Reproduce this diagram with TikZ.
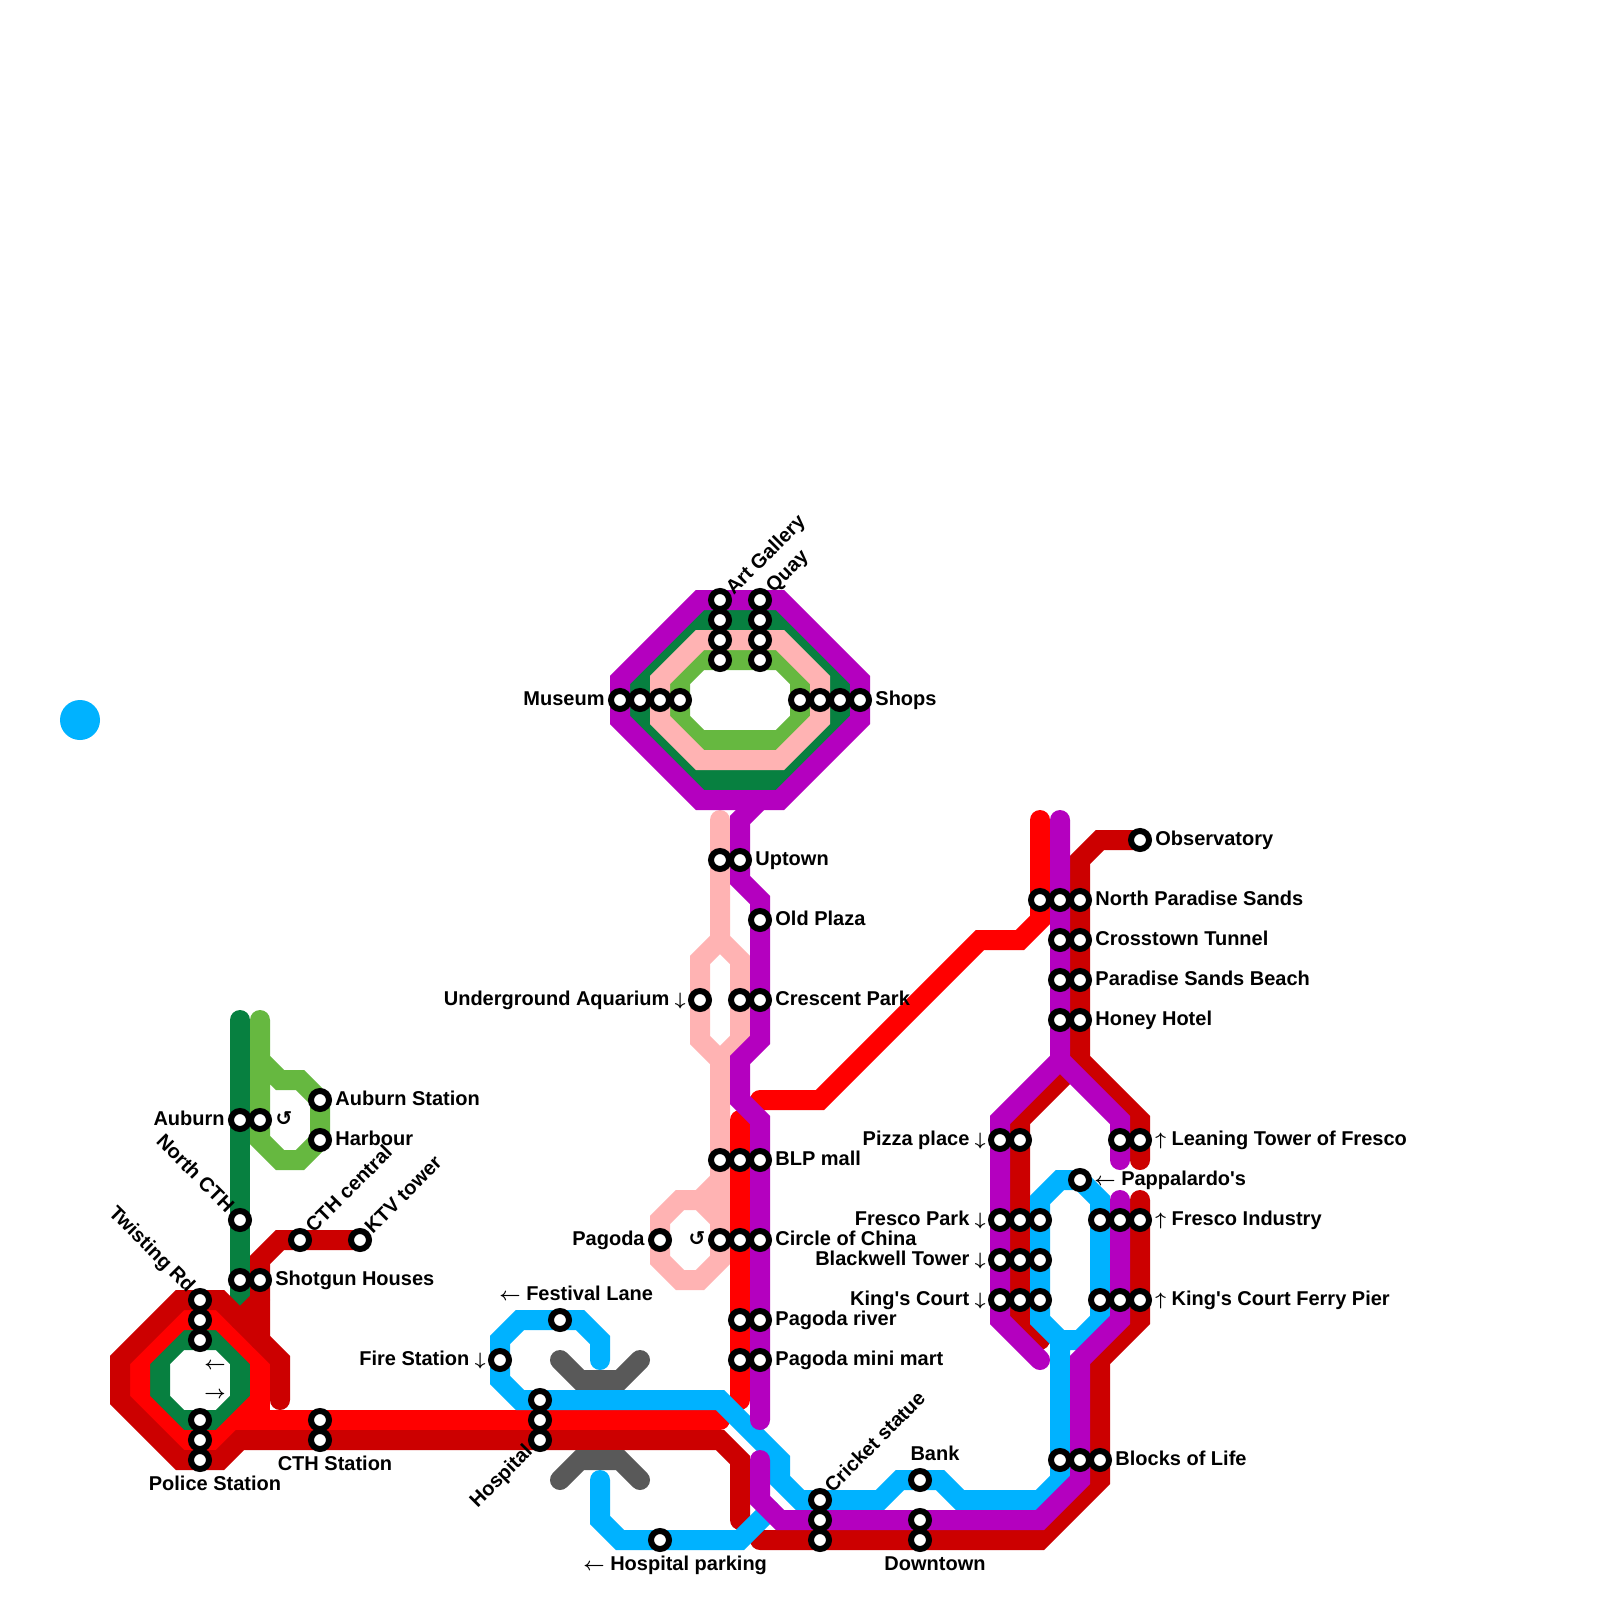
\documentclass[tikz,border=0pt]{standalone}
\usepackage{fontspec}
\newfontfamily\lblfont{Liberation Sans}
\newfontfamily\symfont{DejaVu Sans}
\newcommand{\arrDn}{{\fontsize{9}{9}\selectfont\boldmath$\downarrow$}}
\newcommand{\arrUp}{{\fontsize{9}{9}\selectfont\boldmath$\uparrow$}}
\newcommand{\arrLf}{{\fontsize{9}{9}\selectfont\boldmath$\leftarrow$}}
\newcommand{\arrRt}{{\fontsize{9}{9}\selectfont\boldmath$\rightarrow$}}
\usepackage{xcolor}
\usetikzlibrary{positioning}
\definecolor{lineRed}{HTML}{FF0000}
\definecolor{lineDark}{HTML}{CC0000}
\definecolor{linePurple}{HTML}{B400BF}
\definecolor{lineBlue}{HTML}{00B2FF}
\definecolor{lineGreen}{HTML}{078040}
\definecolor{lineLime}{HTML}{66B840}
\definecolor{linePink}{HTML}{FFB3B3}
\definecolor{lineGrey}{HTML}{595959}
\tikzset{
  mline/.style ={line width=10pt, line cap=round, line join=miter},
  stn/.style   ={draw=black, fill=white, circle, line width=3pt, minimum size=9pt, inner sep=0pt},
  txt/.style   ={font=\lblfont\bfseries\fontsize{10}{12}\selectfont, inner sep=0pt, text height=7.2pt, text depth=2pt},
  txtr/.style  ={txt, anchor=west},
  txtl/.style  ={txt, anchor=east},
  txtup/.style ={txt, anchor=west, rotate=45},
  txtdn/.style ={txt, anchor=east, rotate=-45},
  txthp/.style ={txt, anchor=east, rotate=45},
}

\begin{document}
\begin{tikzpicture}[x=0.5pt, y=-0.5pt]
  \useasboundingbox (0,0) rectangle (1600,1600);
  \fill[white] (0,0) rectangle (1600,1600);

  % Lime line
  \draw[mline, lineLime] (680,680) -- (700,660) -- (780,660) -- (800,680) -- (800,720) -- (780,740) -- (700,740) -- (680,720) -- cycle;
  \draw[mline, lineLime] (260,1020) -- (260,1140) -- (280,1160) -- (300,1160) -- (320,1140) -- (320,1100) -- (300,1080) -- (280,1080) -- (260,1060);

  % Green line
  \draw[mline, lineGreen] (640,680) -- (700,620) -- (780,620) -- (840,680) -- (840,720) -- (780,780) -- (700,780) -- (640,720) -- cycle;
  \draw[mline, lineGreen] (240,1020) -- (240,1360);
  \draw[mline, lineGreen] (160,1360) -- (180,1340) -- (220,1340) -- (240,1360) -- (240,1400) -- (220,1420) -- (180,1420) -- (160,1400) -- cycle;

  % Pink line
  \draw[mline, linePink] (660,680) -- (700,640) -- (780,640) -- (820,680) -- (820,720) -- (780,760) -- (700,760) -- (660,720) -- cycle;
  \draw[mline, linePink] (720,820) -- (720,940) -- (700,960) -- (700,1040) -- (720,1060) -- (740,1040) -- (740,960) -- (720,940);
  \draw[mline, linePink] (720,1060) -- (720,1180) -- (700,1200) -- (680,1200) -- (660,1220) -- (660,1260) -- (680,1280) -- (700,1280) -- (720,1260) -- (720,1220) -- (700,1200);
  \draw[mline, linePink] (720,1180) -- (720,1220);

  % Red line
  \draw[mline, lineRed] (720,1420) -- (240,1420) -- (220,1440) -- (180,1440) -- (140,1400) -- (140,1360) -- (180,1320) -- (220,1320) -- (260,1360) -- (260,1400) -- (240,1420);
  \draw[mline, lineRed] (260,1400) -- (260,1420);
  \draw[mline, lineRed] (740,1120) -- (740,1400);
  \draw[mline, lineRed] (760,1100) -- (820,1100) -- (980,940) -- (1020,940) -- (1040,920) -- (1040,820);

  % Dark red line
  \draw[mline, lineDark] (280,1400) -- (280,1360) -- (220,1300) -- (180,1300) -- (120,1360) -- (120,1400) -- (180,1460) -- (220,1460) -- (240,1440) -- (720,1440) -- (740,1460) -- (740,1520);
  \draw[mline, lineDark] (360,1240) -- (280,1240) -- (260,1260) -- (260,1340);
  \draw[mline, lineDark] (260,1300) -- (240,1320);
  \draw[mline, lineDark] (1140,840) -- (1100,840) -- (1080,860) -- (1080,1060) -- (1140,1120) -- (1140,1160);
  \draw[mline, lineDark] (1080,1060) -- (1020,1120) -- (1020,1320) -- (1040,1340);
  \draw[mline, lineDark] (1140,1200) -- (1140,1320) -- (1100,1360) -- (1100,1480) -- (1040,1540) -- (760,1540);

  % Grey line
  \draw[mline, lineGrey] (560,1360) -- (580,1380) -- (620,1380) -- (640,1360);
  \draw[mline, lineGrey] (560,1480) -- (580,1460) -- (620,1460) -- (640,1480);

  % Blue line
  \draw[mline, lineBlue] (600,1360) -- (600,1340) -- (580,1320) -- (520,1320) -- (500,1340) -- (500,1380) -- (520,1400) -- (720,1400) -- (780,1460) -- (780,1480) -- (800,1500) -- (880,1500) -- (900,1480) -- (940,1480) -- (960,1500) -- (1040,1500) -- (1060,1480) -- (1060,1340) -- (1040,1320) -- (1040,1200) -- (1060,1180) -- (1080,1180) -- (1100,1200) -- (1100,1320) -- (1080,1340) -- (1060,1340);
  \draw[mline, lineBlue] (600,1480) -- (600,1520) -- (620,1540) -- (740,1540) -- (770,1510);
  \fill[lineBlue] (80,720) circle (20);

  % Purple line
  \draw[mline, linePurple] (620,680) -- (700,600) -- (780,600) -- (860,680) -- (860,720) -- (780,800) -- (700,800) -- (620,720) -- cycle;
  \draw[mline, linePurple] (760,800) -- (740,820) -- (740,880) -- (760,900) -- (760,1040) -- (740,1060) -- (740,1100) -- (760,1120) -- (760,1420);
  \draw[mline, linePurple] (1060,820) -- (1060,1060) -- (1000,1120) -- (1000,1320) -- (1040,1360);
  \draw[mline, linePurple] (1060,1060) -- (1120,1120) -- (1120,1160);
  \draw[mline, linePurple] (1120,1200) -- (1120,1320) -- (1080,1360) -- (1080,1480) -- (1040,1520) -- (780,1520) -- (760,1500) -- (760,1460);

  % Stations
  \foreach \nm/\x/\y in {
    museumA/620/700, museumB/640/700, museumC/660/700, museumD/680/700,
    shopsA/860/700, shopsB/840/700, shopsC/820/700, shopsD/800/700,
    galleryA/720/600, galleryB/720/620, galleryC/720/640, galleryD/720/660,
    quayA/760/600, quayB/760/620, quayC/760/640, quayD/760/660,
    uptownA/720/860, uptownB/740/860, plaza/760/920,
    aquarium/700/1000, crescentA/740/1000, crescentB/760/1000,
    blpA/720/1160, blpB/740/1160, blpC/760/1160,
    pagoda/660/1240, chinaA/720/1240, chinaB/740/1240, chinaC/760/1240,
    riverA/740/1320, riverB/760/1320, martA/740/1360, martB/760/1360,
    auburnA/240/1120, auburnB/260/1120, auburnStn/320/1100, harbour/320/1140,
    northCth/240/1220, cthCentral/300/1240, ktv/360/1240,
    shotgunA/240/1280, shotgunB/260/1280,
    twistA/200/1300, twistB/200/1320, twistC/200/1340,
    policeA/200/1420, policeB/200/1440, policeC/200/1460,
    cthStnA/320/1420, cthStnB/320/1440,
    fire/500/1360, festival/560/1320,
    hospitalA/540/1400, hospitalB/540/1420, hospitalC/540/1440,
    parking/660/1540,
    cricketA/820/1500, cricketB/820/1520, cricketC/820/1540,
    bank/920/1480, downtownA/920/1520, downtownB/920/1540,
    blocksA/1060/1460, blocksB/1080/1460, blocksC/1100/1460,
    observatory/1140/840,
    sandsA/1040/900, sandsB/1060/900, sandsC/1080/900,
    tunnelA/1060/940, tunnelB/1080/940,
    beachA/1060/980, beachB/1080/980,
    honeyA/1060/1020, honeyB/1080/1020,
    pizzaA/1000/1140, pizzaB/1020/1140,
    leanA/1120/1140, leanB/1140/1140,
    pappalardo/1080/1180,
    frescoA/1000/1220, frescoB/1020/1220, frescoC/1040/1220,
    blackA/1000/1260, blackB/1020/1260, blackC/1040/1260,
    kingsA/1000/1300, kingsB/1020/1300, kingsC/1040/1300,
    industryA/1100/1220, industryB/1120/1220, industryC/1140/1220,
    ferryA/1100/1300, ferryB/1120/1300, ferryC/1140/1300}
    \node[stn] (\nm) at (\x,\y) {};

  % Labels
  \node[txtl] (museumL) at (605,700) {Museum};
  \node[txtr] (shopsL) at (875,700) {Shops};
  \node[txtup] (galleryL) at (730,592) {Art Gallery};
  \node[txtup] (quayL) at (770,590) {Quay};
  \node[txtr] (uptownL) at (755,860) {Uptown};
  \node[txtr] (plazaL) at (775,920) {Old Plaza};
  \node[txtl] (aquariumL) at (686,1000) {Underground Aquarium \arrDn};
  \node[txtr] (crescentL) at (775,1000) {Crescent Park};
  \node[txtr] (blpL) at (775,1160) {BLP mall};
  \node[txtl] (pagodaL) at (645,1240) {Pagoda};
  \node[txt] (pagodaLoop) at (697,1240) {\symfont ↺};
  \node[txtr] (chinaL) at (775,1240) {Circle of China};
  \node[txtr] (riverL) at (775,1320) {Pagoda river};
  \node[txtr] (martL) at (775,1360) {Pagoda mini mart};
  \node[txtl] (auburnL) at (225,1120) {Auburn};
  \node[txt] (auburnLoop) at (284,1120) {\symfont ↺};
  \node[txtr] (auburnStnL) at (335,1100) {Auburn Station};
  \node[txtr] (harbourL) at (335,1140) {Harbour};
  \node[txtdn] (northCthL) at (230,1210) {North CTH};
  \node[txtdn] (twistL) at (191,1290) {Twisting Rd};
  \node[txtup] (cthCentralL) at (310,1230) {CTH central};
  \node[txtup] (ktvL) at (369,1231) {KTV tower};
  \node[txtr] (shotgunL) at (275,1280) {Shotgun Houses};
  \node[txt] (ringLeft) at (215,1364) {\arrLf};
  \node[txt] (ringRight) at (215,1393) {\arrRt};
  \node[txt] (policeL) at (215,1485) {Police Station};
  \node[txt] (cthStnL) at (335,1465) {CTH Station};
  \node[txtl] (fireL) at (486,1360) {Fire Station \arrDn};
  \node[txtr] (festivalL) at (499,1295) {\arrLf\ Festival Lane};
  \node[txthp] (hospitalL) at (530,1449) {Hospital};
  \node[txtr] (parkingL) at (583,1565) {\arrLf\ Hospital parking};
  \node[txtup] (cricketL) at (829,1490) {Cricket statue};
  \node[txt] (bankL) at (935,1455) {Bank};
  \node[txt] (downtownL) at (935,1565) {Downtown};
  \node[txtr] (blocksL) at (1115,1460) {Blocks of Life};
  \node[txtr] (observatoryL) at (1155,840) {Observatory};
  \node[txtr] (sandsL) at (1095,900) {North Paradise Sands};
  \node[txtr] (tunnelL) at (1095,940) {Crosstown Tunnel};
  \node[txtr] (beachL) at (1095,980) {Paradise Sands Beach};
  \node[txtr] (honeyL) at (1095,1020) {Honey Hotel};
  \node[txtl] (pizzaL) at (986,1140) {Pizza place \arrDn};
  \node[txtr] (leanL) at (1155,1140) {\arrUp\ Leaning Tower of Fresco};
  \node[txtr] (pappalardoL) at (1094,1180) {\arrLf\ Pappalardo's};
  \node[txtl] (frescoL) at (986,1220) {Fresco Park \arrDn};
  \node[txtl] (blackL) at (986,1260) {Blackwell Tower \arrDn};
  \node[txtl] (kingsL) at (986,1300) {King's Court \arrDn};
  \node[txtr] (industryL) at (1155,1220) {\arrUp\ Fresco Industry};
  \node[txtr] (ferryL) at (1155,1300) {\arrUp\ King's Court Ferry Pier};
\end{tikzpicture}
\end{document}
